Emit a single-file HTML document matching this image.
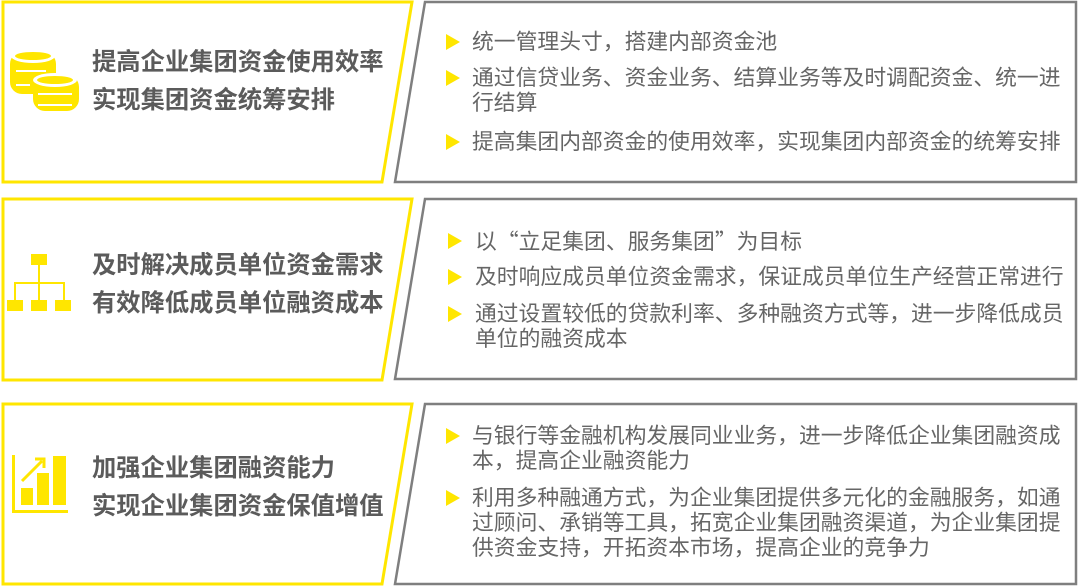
<!DOCTYPE html>
<html><head><meta charset="utf-8"><style>
html,body{margin:0;padding:0;background:#fff;}
body{width:1080px;height:586px;position:relative;overflow:hidden;font-family:"Liberation Sans","Noto Sans CJK SC",sans-serif;}
.t{position:absolute;left:92px;font-size:24.3px;font-weight:bold;color:#5b5b5b;white-space:nowrap;line-height:30px;}
.b{position:absolute;left:472px;font-size:21.8px;color:#666;white-space:nowrap;line-height:25px;}
.q{font-family:"Noto Sans CJK SC",sans-serif;}
svg{position:absolute;left:0;top:0;}
</style></head><body>
<svg width="1080" height="586">
<g fill="none" stroke-width="3">
<polygon points="3,2 412,2 382,182 3,182" stroke="#ffe600"/>
<polygon points="425,2 1076,2 1076,182 395,182" stroke="#7f7f7f" stroke-width="2.5"/>
<polygon points="3,199 412,199 382,380 3,380" stroke="#ffe600"/>
<polygon points="425,199 1076,199 1076,379 395,379" stroke="#7f7f7f" stroke-width="2.5"/>
<polygon points="3,404 412,404 382,584 3,584" stroke="#ffe600"/>
<polygon points="425,404 1076,404 1076,584 395,584" stroke="#7f7f7f" stroke-width="2.5"/>
</g>
<g fill="#ffe600">
<rect x="10" y="52" width="46" height="42" rx="12"/>
<rect x="33" y="75" width="46" height="36" rx="12"/>
<ellipse cx="33" cy="56" rx="22" ry="7" fill="#fff"/>
<ellipse cx="33" cy="56" rx="18" ry="4"/>
<ellipse cx="55" cy="80" rx="22" ry="7" fill="#fff"/>
<ellipse cx="55" cy="80" rx="18" ry="4"/>
<g fill="#fff"><rect x="16" y="70" width="30" height="2"/><rect x="38" y="93" width="34" height="2"/><rect x="16" y="84" width="14" height="2"/><rect x="38" y="104" width="34" height="2"/></g>
<rect x="31" y="254" width="16" height="11"/>
<rect x="7" y="300" width="16" height="11"/>
<rect x="31" y="300" width="16" height="11"/>
<rect x="55" y="300" width="16" height="11"/>
<rect x="38" y="265" width="2" height="35"/>
<rect x="14" y="282" width="51" height="2"/>
<rect x="14" y="282" width="2" height="18"/>
<rect x="63" y="282" width="2" height="18"/>
<rect x="12" y="455" width="3" height="58"/>
<rect x="12" y="510" width="56" height="3"/>
<rect x="21" y="488" width="12" height="17"/>
<rect x="37" y="473" width="12" height="32"/>
<rect x="53" y="456" width="13" height="49"/>
</g>
<g stroke="#ffe600" stroke-width="3" fill="none"><line x1="22" y1="481" x2="42" y2="461"/><polyline points="35,459 44,459 44,468"/></g>
<g fill="#ffe600">
<polygon points="446,34 446,50 460,42"/>
<polygon points="446,70 446,86 460,78"/>
<polygon points="446,134 446,150 460,142"/>
<polygon points="448,233 448,249 462,241"/>
<polygon points="448,269 448,285 462,277"/>
<polygon points="448,306 448,322 462,314"/>
<polygon points="446,428 446,444 460,436"/>
<polygon points="446,490 446,506 460,498"/>
</g>
</svg>
<div class="t" style="top:48px">提高企业集团资金使用效率</div>
<div class="t" style="top:86px">实现集团资金统筹安排</div>
<div class="t" style="top:251px">及时解决成员单位资金需求</div>
<div class="t" style="top:289px">有效降低成员单位融资成本</div>
<div class="t" style="top:454px">加强企业集团融资能力</div>
<div class="t" style="top:492px">实现企业集团资金保值增值</div>

<div class="b" style="top:29px">统一管理头寸，搭建内部资金池</div>
<div class="b" style="top:65px">通过信贷业务、资金业务、结算业务等及时调配资金、统一进</div>
<div class="b" style="top:90px">行结算</div>
<div class="b" style="top:129px">提高集团内部资金的使用效率，实现集团内部资金的统筹安排</div>

<div class="b" style="top:228px;left:475px">以<span class="q">“</span>立足集团、服务集团<span class="q">”</span>为目标</div>
<div class="b" style="top:264px;left:475px">及时响应成员单位资金需求，保证成员单位生产经营正常进行</div>
<div class="b" style="top:301px;left:475px">通过设置较低的贷款利率、多种融资方式等，进一步降低成员</div>
<div class="b" style="top:326px;left:475px">单位的融资成本</div>

<div class="b" style="top:423px">与银行等金融机构发展同业业务，进一步降低企业集团融资成</div>
<div class="b" style="top:448px">本，提高企业融资能力</div>
<div class="b" style="top:485px">利用多种融通方式，为企业集团提供多元化的金融服务，如通</div>
<div class="b" style="top:510px">过顾问、承销等工具，拓宽企业集团融资渠道，为企业集团提</div>
<div class="b" style="top:535px">供资金支持，开拓资本市场，提高企业的竞争力</div>
</body></html>
